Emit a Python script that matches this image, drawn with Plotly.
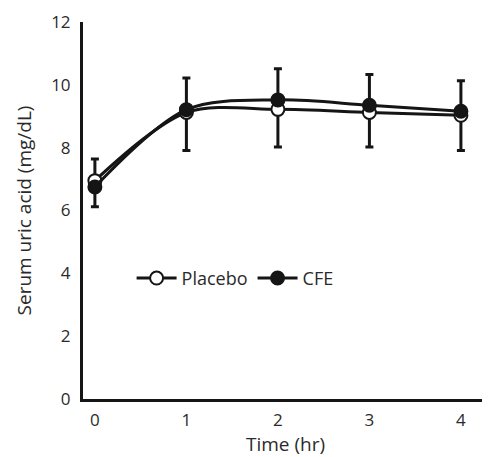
import plotly.graph_objects as go

time_hr = [0, 1, 2, 3, 4]
placebo = [6.95, 9.12, 9.22, 9.12, 9.03]
cfe = [6.75, 9.21, 9.52, 9.35, 9.16]
err_top = [7.64, 10.22, 10.51, 10.33, 10.13]
err_bottom = [6.12, 7.91, 8.02, 8.02, 7.91]

plus = [t - p for t, p in zip(err_top, placebo)]
minus = [p - b for p, b in zip(placebo, err_bottom)]

ink = "#151515"
fig = go.Figure()
fig.add_trace(go.Scatter(
    x=time_hr, y=placebo, name="Placebo", mode="lines+markers",
    line=dict(color=ink, width=3, shape="spline", smoothing=0.9),
    marker=dict(symbol="circle", size=13, color="white", line=dict(color=ink, width=2)),
    error_y=dict(type="data", symmetric=False, array=plus, arrayminus=minus,
                 color=ink, thickness=3, width=4),
))
fig.add_trace(go.Scatter(
    x=time_hr, y=cfe, name="CFE", mode="lines+markers",
    line=dict(color=ink, width=3, shape="spline", smoothing=0.9),
    marker=dict(symbol="circle", size=13, color=ink, line=dict(color=ink, width=2)),
))

fig.update_layout(
    width=482, height=449,
    margin=dict(l=75, r=2, t=14, b=58, autoexpand=False),
    paper_bgcolor="white", plot_bgcolor="white",
    font=dict(family="Open Sans", size=17, color="#2a2a2a"),
    showlegend=True,
    legend=dict(orientation="h", x=0.12, y=0.32, xanchor="left", yanchor="middle",
                bgcolor="rgba(0,0,0,0)", font=dict(size=18), itemwidth=40,
                traceorder="normal"),
    xaxis=dict(range=[-0.13, 4.296], tickvals=time_hr, showgrid=False, zeroline=False,
               showline=True, linecolor=ink, linewidth=3, ticks="", automargin=False,
               ticklabelstandoff=4,
               title=dict(text="Time (hr)", font=dict(size=19))),
    yaxis=dict(range=[0, 12], tickvals=[0, 2, 4, 6, 8, 10, 12], showgrid=False,
               zeroline=False, showline=True, linecolor=ink, linewidth=3, ticks="",
               automargin=False, ticklabelstandoff=6,
               title=dict(text="Serum uric acid (mg/dL)", font=dict(size=19))),
)
fig.write_html("out.html")
